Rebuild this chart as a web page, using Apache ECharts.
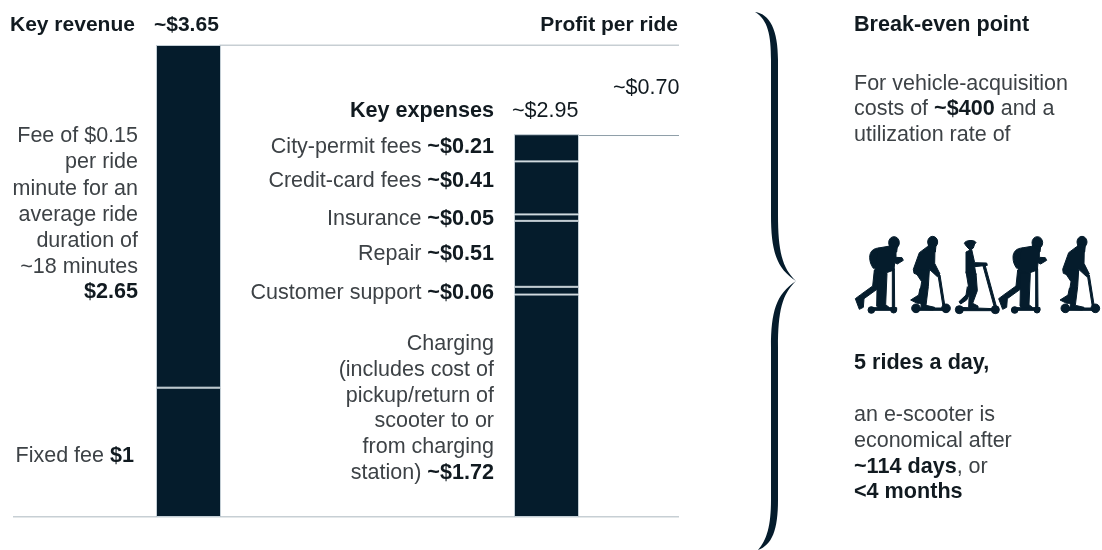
<!DOCTYPE html>
<html lang="en">
<head>
	<meta charset="utf-8" />
	<title>E-scooter unit economics</title>
	<style type="text/css">
		html,body{margin:0;padding:0;background:#fff;}
		#chart{width:1102px;height:550px;}
	</style>
</head>
<body>
<div id="chart"></div>
<script src="https://cdn.jsdelivr.net/npm/echarts@6/dist/echarts.min.js"></script>
<script>
	var columns = ['Key revenue', 'Key expenses'];
	// stacked from the bottom up
	var revenueNames = ['Fixed fee', 'Per-minute fee'];
	var revenueValues = [1, 2.65];
	var expenseNames = ['Charging', 'Customer support', 'Repair', 'Insurance', 'Credit-card fees', 'City-permit fees'];
	var expenseValues = [1.72, 0.06, 0.51, 0.05, 0.41, 0.21];
	var revenueTotal = 3.65;
	var expenseTotal = 2.95;

	var NAVY = '#051c2c', TEXT = '#3d4246', STRONG = '#111a20', RULE = '#8f9ea8', EDGE = '#c3ced5';
	var FONT = '"Liberation Sans", Arial, sans-serif', SIZE = 21.5, BOLD_SIZE = 21.6, HEAD_SIZE = 21;

	// [text, x, middle y, align]; {b|..} marks bold runs, {h|..} the chart headers
	var labels = [
		['{h|Key revenue}', 10, 25, 'left'],
		['{h|~$3.65}', 154, 25, 'left'],
		['{h|Profit per ride}', 678, 25, 'right'],
		['Fee of $0.15', 138, 136, 'right'],
		['per ride', 138, 162, 'right'],
		['minute for an', 138, 189, 'right'],
		['average ride', 138, 215, 'right'],
		['duration of', 138, 241, 'right'],
		['~18 minutes', 138, 267, 'right'],
		['{b|$2.65}', 138, 292, 'right'],
		['Fixed fee {b|$1}', 134, 456, 'right'],
		['{b|Key expenses}', 494, 111, 'right'],
		['{m|~$2.95}', 512, 111, 'left'],
		['{m|~$0.70}', 613, 88, 'left'],
		['City-permit fees {b|~$0.21}', 494, 147, 'right'],
		['Credit-card fees {b|~$0.41}', 494, 181, 'right'],
		['Insurance {b|~$0.05}', 494, 219, 'right'],
		['Repair {b|~$0.51}', 494, 254, 'right'],
		['Customer support {b|~$0.06}', 494, 293, 'right'],
		['Charging', 494, 344, 'right'],
		['(includes cost of', 494, 370, 'right'],
		['pickup/return of', 494, 396, 'right'],
		['scooter to or', 494, 421, 'right'],
		['from charging', 494, 447, 'right'],
		['station) {b|~$1.72}', 494, 473, 'right'],
		['{b|Break-even point}', 854, 25, 'left'],
		['For vehicle-acquisition', 854, 84, 'left'],
		['costs of {b|~$400} and a', 854, 109, 'left'],
		['utilization rate of', 854, 135, 'left'],
		['{b|5 rides a day,}', 854, 363, 'left'],
		['an e-scooter is', 854, 415, 'left'],
		['economical after', 854, 441, 'left'],
		['{b|~114 days}, or', 854, 467, 'left'],
		['{b|<4 months}', 854, 492, 'left']
	];

	// silhouettes, drawn at 3x and scaled down; one path per body part
	var riderPack = [
		'M146 68A16 18 0 1 1 178 68A16 18 0 1 1 146 68Z',
		'M148 76L172 80L170 96L146 96Z',
		'M89 112C89 95 100 84 118 84L130 140L100 145C93 135 89 125 89 112Z',
		'M115 84L150 78L168 92L168 112L186 113L190 121L172 132L164 128L162 150L140 158L104 156Z',
		'M103 150L140 160L115 205L72 236L70 262L58 268L46 236L62 224L98 198Z',
		'M112 160L141 160L137 254L147 262L118 268L110 258Z',
		'M157 146L163 146L164 262L157 262Z',
		'M90 263L170 263L170 271L90 271Z',
		'M84 270A10 10 0 1 1 104 270A10 10 0 1 1 84 270Z',
		'M152 270A9 9 0 1 1 170 270A9 9 0 1 1 152 270Z'
	];
	var riderLean = [
		'M263 66A15 17 0 1 1 293 66A15 17 0 1 1 263 66Z',
		'M266 72L288 76L286 96L262 92Z',
		'M262 80L285 84L284 130L300 162L292 170L268 148L262 175L222 160L220 148L238 98Z',
		'M222 150L268 150L265 200L258 256L284 262L280 270L244 268L240 215L245 185Z',
		'M240 205L258 205L250 250L232 250L212 240L236 225Z',
		'M294 165L300 165L315 260L309 260Z',
		'M235 264L312 264L312 271L235 271Z',
		'M215 265A13 13 0 1 1 241 265A13 13 0 1 1 215 265Z',
		'M305 265A13 13 0 1 1 331 265A13 13 0 1 1 305 265Z'
	];
	var riderGirl = [
		'M373 70C375 60 405 58 408 68L404 72L400 84L390 90L380 80Z',
		'M378 96L395 88L404 128L440 129L442 136L404 140L408 165L378 160Z',
		'M378 155L408 160L412 212L398 250L414 258L414 264L386 262L388 215Z',
		'M382 200L392 215L380 240L362 252L357 245L378 225Z',
		'M428 134L435 134L470 262L463 262Z',
		'M355 262L460 266L460 272L355 272Z',
		'M346 269A12 12 0 1 1 370 269A12 12 0 1 1 346 269Z',
		'M454 269A12 12 0 1 1 478 269A12 12 0 1 1 454 269Z'
	];
	var riders = [[riderPack, 0], [riderLean, 0], [riderGirl, 0], [riderPack, 430], [riderLean, 448]];

	var brace = 'M755 12C770 14 778 30 778 60L778 215C778 250 782 268 796 281C782 294 778 312 778 347L778 500C778 530 772 545 758 550'
		+ 'C767 540 771 525 771 500L771 347C771 312 776 294 796 281C776 268 771 250 771 215L771 60C771 35 768 20 755 12Z';

	function barSeries(name, column, value) {
		var data = columns.map(function(){ return '-'; });
		data[column] = value;
		return {
			name: name,
			type: 'bar',
			stack: 'perRide',
			xAxisIndex: 0,
			yAxisIndex: 0,
			barWidth: 65,
			data: data,
			silent: true,
			itemStyle: {color: NAVY, borderColor: EDGE, borderWidth: 1},
			z: 3
		};
	}

	function ruleSeries(data) {
		return {
			type: 'line',
			xAxisIndex: 1,
			yAxisIndex: 1,
			data: data,
			symbol: 'none',
			silent: true,
			lineStyle: {color: RULE, width: 1},
			z: 2
		};
	}

	var series = [];
	revenueValues.forEach(function(v, i){ series.push(barSeries(revenueNames[i], 0, v)); });
	expenseValues.forEach(function(v, i){ series.push(barSeries(expenseNames[i], 1, v)); });
	series.push(ruleSeries([[0, 0], [1, 0]]));
	series.push(ruleSeries([[0.31, revenueTotal], [1, revenueTotal]]));
	series.push(ruleSeries([[0.85, expenseTotal], [1, expenseTotal]]));

	// brace and riders: path elements only exist in custom series
	series.push({
		type: 'custom',
		coordinateSystem: 'none',
		silent: true,
		data: [0],
		renderItem: function() {
			var children = [{type: 'path', shape: {pathData: brace}, style: {fill: NAVY}}];
			riders.forEach(function(r){
				r[0].forEach(function(part){
					children.push({
						type: 'path',
						x: 840 + r[1] / 3,
						y: 220,
						scaleX: 1 / 3,
						scaleY: 1 / 3,
						shape: {pathData: part},
						// the stroke fattens the thin parts, it scales down with the path
						style: {fill: NAVY, stroke: NAVY, lineWidth: 3, lineJoin: 'round'}
					});
				});
			});
			return {type: 'group', children: children};
		}
	});

	var graphic = labels.map(function(l){
		return {
			type: 'text',
			x: l[1],
			y: l[2],
			style: {
				text: l[0],
				fill: TEXT,
				font: SIZE + 'px ' + FONT,
				align: l[3],
				verticalAlign: 'middle',
				rich: {
					b: {fontWeight: 'bold', fontFamily: FONT, fontSize: BOLD_SIZE, fill: STRONG},
					h: {fontWeight: 'bold', fontFamily: FONT, fontSize: HEAD_SIZE, fill: STRONG},
					m: {fontFamily: FONT, fontSize: SIZE, fill: STRONG}
				}
			}
		};
	});

	var myChart = echarts.init(document.getElementById('chart'));
	myChart.setOption({
		animation: false,
		backgroundColor: '#fff',
		grid: [
			{left: 9.5, top: 45, width: 716, height: 472},
			{left: 13, top: 45, width: 666, height: 472}
		],
		xAxis: [
			{type: 'category', gridIndex: 0, data: columns, show: false},
			{type: 'value', gridIndex: 1, min: 0, max: 1, show: false}
		],
		yAxis: [
			{type: 'value', gridIndex: 0, min: 0, max: revenueTotal, show: false},
			{type: 'value', gridIndex: 1, min: 0, max: revenueTotal, show: false}
		],
		series: series,
		graphic: graphic
	});
</script>
</body>
</html>
